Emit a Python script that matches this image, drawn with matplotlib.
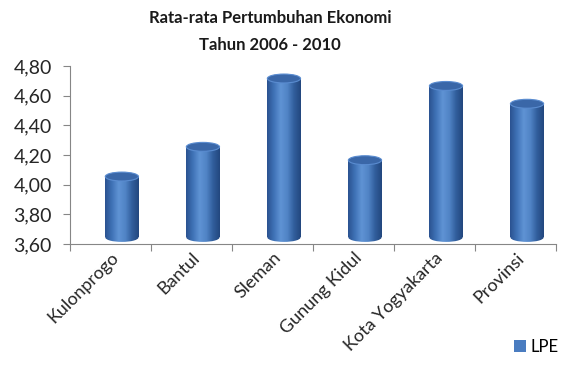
import numpy as np
import matplotlib.pyplot as plt
from matplotlib.patches import Ellipse, Rectangle, Patch
from matplotlib.colors import LinearSegmentedColormap

plt.rcParams['font.family'] = ['Lato', 'DejaVu Sans']

# data
categories = ['Kulonprogo', 'Bantul', 'Sleman', 'Gunung Kidul', 'Kota Yogyakarta', 'Provinsi']
lpe = [4.01, 4.21, 4.67, 4.12, 4.62, 4.50]
yticks = [3.60, 3.80, 4.00, 4.20, 4.40, 4.60, 4.80]

fig = plt.figure(figsize=(5.74, 3.66), dpi=100)
ax = fig.add_axes([0.122, 0.333, 0.847, 0.487])

cmap = LinearSegmentedColormap.from_list(
    'cyl', ['#2a5290', '#3f72b6', '#5f93d4', '#5184c6', '#315e9c', '#23477e'])
grad = np.linspace(0, 1, 200).reshape(1, -1)

# 3D look: bars pushed back a little (right and up)
dx, dy = 0.14, 0.045
w = 0.41
eh = 0.06

for i, v in enumerate(lpe):
    cx = i + 0.5 + dx
    x0 = cx - w / 2
    y0 = 3.60 + dy
    y1 = v + dy
    body = Rectangle((x0, y0), w, y1 - y0, facecolor='none', edgecolor='none')
    ax.add_patch(body)
    im = ax.imshow(grad, extent=(x0, x0 + w, y0, y1), cmap=cmap, aspect='auto', zorder=2)
    im.set_clip_path(body)
    bot = Ellipse((cx, y0), w, eh, facecolor='none', edgecolor='none')
    ax.add_patch(bot)
    im2 = ax.imshow(grad, extent=(x0, x0 + w, y0 - eh, y0), cmap=cmap, aspect='auto', zorder=2)
    im2.set_clip_path(bot)
    top = Ellipse((cx, y1), w, eh, facecolor='#3a67a8', edgecolor='#5a8cd0', lw=0.8, zorder=3)
    ax.add_patch(top)

ax.set_xlim(0, len(categories))
ax.set_ylim(3.60, 4.80)

ax.set_yticks(yticks)
ax.set_yticklabels([f'{t:.2f}'.replace('.', ',') for t in yticks], fontsize=14, color='#262626')
ax.set_xticks(np.arange(len(categories) + 1))
ax.set_xticklabels([])
ax.set_xticks(np.arange(len(categories)) + 0.5, minor=True)
ax.set_xticklabels(categories, minor=True, rotation=45, ha='right', rotation_mode='anchor',
                   fontsize=13, color='#262626')
ax.tick_params(axis='x', which='minor', length=0, pad=4)
ax.tick_params(axis='x', which='major', length=5, color='#868686')
ax.tick_params(axis='y', length=5, color='#868686', pad=8)

for s in ['top', 'right']:
    ax.spines[s].set_visible(False)
for s in ['left', 'bottom']:
    ax.spines[s].set_color('#868686')

fig.text(0.47, 0.951, 'Rata-rata Pertumbuhan Ekonomi', ha='center', va='center',
         fontsize=12, fontweight='bold', color='#1a1a1a')
fig.text(0.47, 0.877, 'Tahun 2006 - 2010', ha='center', va='center',
         fontsize=12, fontweight='bold', color='#1a1a1a')

fig.legend(handles=[Patch(facecolor='#4a7cc0', label='LPE')], loc='lower right',
           bbox_to_anchor=(1.0, -0.01), frameon=False, fontsize=12,
           handlelength=0.7, handleheight=0.7, handletextpad=0.3)

fig.savefig('out.png', dpi=100)
